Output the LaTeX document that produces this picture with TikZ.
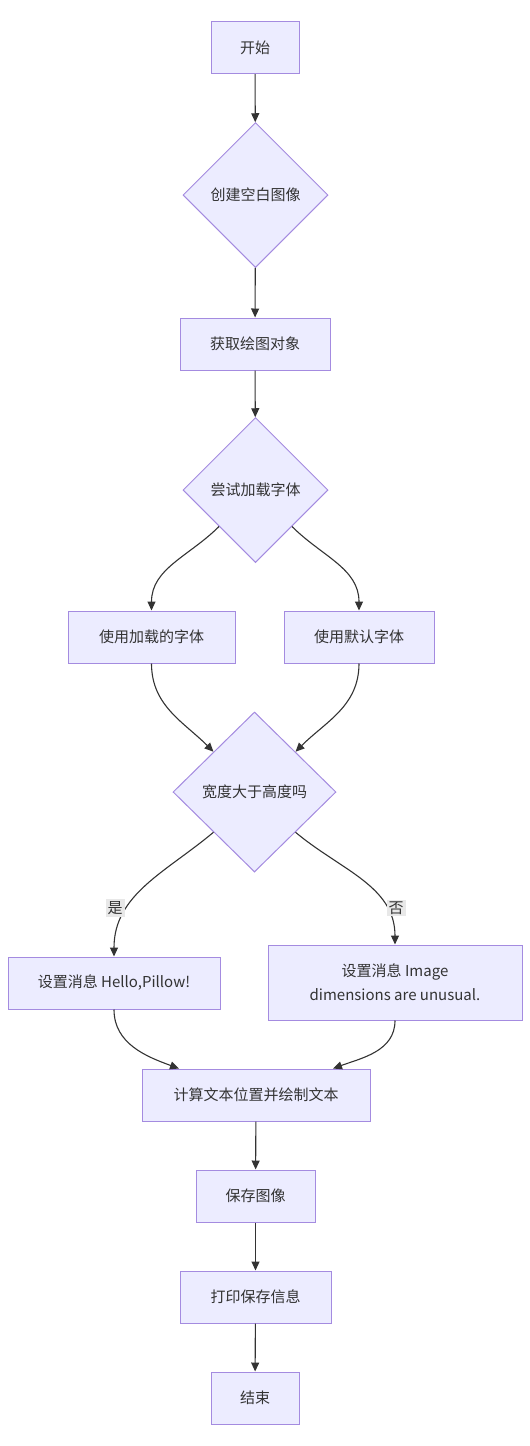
\documentclass[tikz,border=0pt]{standalone}
\usepackage{fontspec}
\newfontfamily\cjk{Noto Sans CJK SC}
\usetikzlibrary{shapes.geometric,arrows.meta}
\definecolor{boxfill}{HTML}{ECECFF}
\definecolor{boxline}{HTML}{A48BE0}
\definecolor{ink}{HTML}{333333}
\definecolor{lblbg}{HTML}{E8E8E8}
\begin{document}
\begin{tikzpicture}[x=1pt,y=1pt]
\tikzstyle{every node}+=[inner sep=0pt, text=ink, font=\cjk\fontsize{15}{24}\selectfont]
\tikzstyle{box}=[draw=boxline, fill=boxfill, line width=1pt, minimum height=52pt]
\tikzstyle{choice}=[draw=boxline, fill=boxfill, line width=1pt, diamond, aspect=1]
\tikzstyle{flow}=[draw=ink, line width=1.1pt, -{Triangle[length=9pt,width=8pt]}]
\tikzstyle{tag}=[fill=lblbg, inner sep=2pt]
\useasboundingbox (0,0) rectangle (530,-1446);
\node [box, minimum width=88pt] (start) at (255,-47.5) {开始};
\node [choice, minimum width=145pt, minimum height=145pt] (blank) at (255.5,-195) {创建空白图像};
\node [box, minimum width=150pt] (getdraw) at (255,-344) {获取绘图对象};
\node [choice, minimum width=145pt, minimum height=145pt] (tryfont) at (255.5,-490) {尝试加载字体};
\node [box, minimum width=167pt] (loaded) at (151.5,-637) {使用加载的字体};
\node [box, minimum width=150pt] (default) at (359,-637) {使用默认字体};
\node [choice, minimum width=163pt, minimum height=160pt] (wider) at (254.5,-792) {宽度大于高度吗};
\node [box, minimum width=212pt] (hello) at (114,-983) {设置消息 Hello,Pillow!};
\node [box, minimum width=254pt, minimum height=75pt, align=center] (image) at (395,-982.5) {设置消息 Image\\dimensions are unusual.};
\node [box, minimum width=228pt] (place) at (256,-1095) {计算文本位置并绘制文本};
\node [box, minimum width=119pt] (save) at (255.5,-1196) {保存图像};
\node [box, minimum width=151pt] (print) at (255.5,-1297) {打印保存信息};
\node [box, minimum width=88pt] (finish) at (255,-1398) {结束};
\draw [flow] (start) -- (blank);
\draw [flow] (blank) -- (getdraw);
\draw [flow] (getdraw) -- (tryfont);
\draw [flow] (tryfont.south west) to[out=-135, in=90] (loaded.north);
\draw [flow] (tryfont.south east) to[out=-45, in=90] (default.north);
\draw [flow] (loaded.south) to[out=-90, in=135] (wider.north west);
\draw [flow] (default.south) to[out=-90, in=45] (wider.north east);
\draw [flow] (wider.south west) to[out=-140, in=90] (hello.north);
\draw [flow] (wider.south east) to[out=-40, in=90] (image.north);
\node [tag] (yes) at (115,-908) {是};
\node [tag] (no) at (396,-908) {否};
\draw [flow] (hello.south) to[out=-90, in=160] (place.161);
\draw [flow] (image.south) to[out=-90, in=20] (place.19);
\draw [flow] (place) -- (save);
\draw [flow] (save) -- (print);
\draw [flow] (print) -- (finish);
\end{tikzpicture}
\end{document}
